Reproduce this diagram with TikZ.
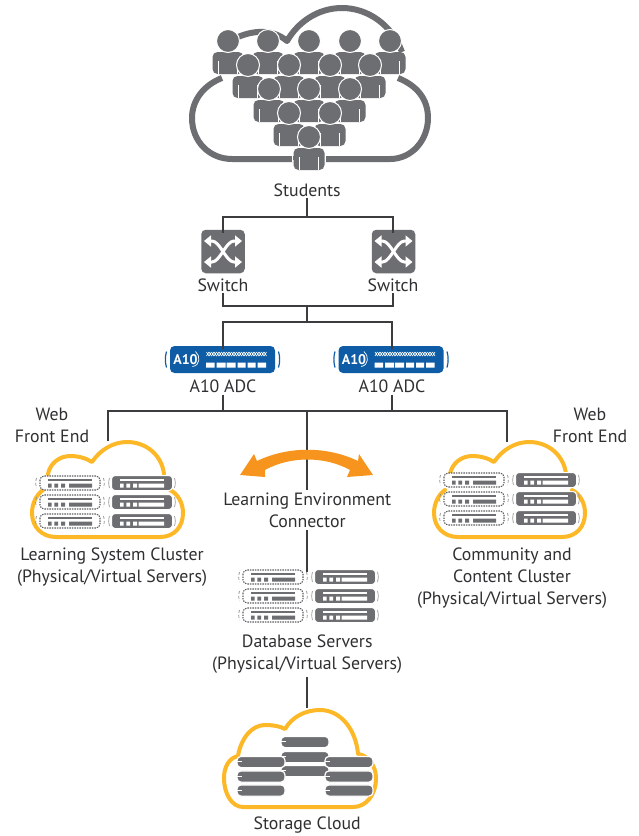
\documentclass[tikz,border=0pt]{standalone}
\usepackage{fontspec}
\setmainfont{PT Sans}
\usetikzlibrary{arrows.meta}
\definecolor{grayicon}{HTML}{6D6E71}
\definecolor{inktext}{HTML}{303032}
\definecolor{linedark}{HTML}{3C3C3E}
\definecolor{cloudyellow}{HTML}{FDB827}
\definecolor{arroworange}{HTML}{F7941D}
\definecolor{adcblue}{HTML}{0F5CA6}
\tikzset{
  lbl/.style={font=\fontsize{17.8}{22}\selectfont,text=inktext,align=center,inner sep=0pt},
  conn/.style={draw=linedark,line width=1.5pt},
  cloudline/.style={draw=cloudyellow,line width=4pt,line cap=round,line join=round},
  swbox/.style={fill=grayicon,rounded corners=4.5pt,minimum width=43.5pt,minimum height=43.5pt,inner sep=0pt},
  adcbox/.style={fill=adcblue,rounded corners=4.5pt,minimum width=105pt,minimum height=27pt,inner sep=0pt},
  person/.pic={
    \fill[grayicon,rounded corners=5pt] (-15.5,33) -- (-15.5,11) -- (15.5,11) -- (15.5,33) -- cycle;
    \draw[white,line width=1pt] (-9.5,33) -- (-9.5,20) (9.5,33) -- (9.5,20);
    \draw[white,line width=1pt,fill=grayicon] (0,0) circle (11.5);
  },
  swarrows/.pic={
    \draw[white,line width=3pt,{Triangle[width=11pt,length=7pt]}-{Triangle[width=11pt,length=7pt]}] (-19,-10.5) -- (-11,-10.5) .. controls (-3,-10.5) and (3,10.5) .. (11,10.5) -- (19,10.5);
    \draw[white,line width=3pt,{Triangle[width=11pt,length=7pt]}-{Triangle[width=11pt,length=7pt]}] (-19,10.5) -- (-11,10.5) .. controls (-3,10.5) and (3,-10.5) .. (11,-10.5) -- (19,-10.5);
  },
  adcface/.pic={
    \draw[adcblue,line width=1.2pt] (-56,-8) .. controls (-57.5,-3) and (-57.5,3) .. (-56,8);
    \draw[adcblue,line width=1.2pt] (56,-8) .. controls (57.5,-3) and (57.5,3) .. (56,8);
    \node[text=white,font=\bfseries\fontsize{14}{14}\selectfont,inner sep=0pt] at (-37,0.5) {A10};
    \draw[white,line width=.7pt] (-30,7) .. controls (-22,6) and (-22,-4) .. (-27,-8);
    \foreach \k in {0,...,23}{
      \draw[white,line width=.6pt] ({-16+2.5*\k},-7.5) -- ({-13.5+2.5*\k},-3.5) ({-16+2.5*\k},-3.5) -- ({-13.5+2.5*\k},-7.5);
    }
    \fill[white] (-16.5,3) rectangle (-8,8) (-6,3) rectangle (3,8) (4,3) rectangle (13,8)
      (15,3) rectangle (23,8) (25,3) rectangle (33,8) (35,3) rectangle (43.5,8);
  },
  physserver/.pic={
    \draw[grayicon!70,line width=.7pt] (-32.5,-5) .. controls (-33.5,-2) and (-33.5,2) .. (-32.5,5) (32.5,-5) .. controls (33.5,-2) and (33.5,2) .. (32.5,5);
    \draw[white,line width=1pt,fill=grayicon,rounded corners=3.5pt] (-30.5,-7.5) rectangle (30.5,7.5);
    \fill[white] (-22,-3.6) rectangle (22,-2.4);
    \fill[white] (-22,0.5) rectangle (-18.3,4.5) (-15.7,0.5) rectangle (-12,4.5) (-9,0.5) rectangle (-5,4.5) (-3.3,0.5) rectangle (22,4.5);
  },
  virtserver/.pic={
    \draw[grayicon!80,line width=.7pt,densely dashed] (-33.5,-5) .. controls (-34.5,-2) and (-34.5,2) .. (-33.5,5) (33.5,-5) .. controls (34.5,-2) and (34.5,2) .. (33.5,5);
    \draw[grayicon!85!black,line width=1.1pt,fill=white,dash pattern=on 1.4pt off 1.1pt,rounded corners=4pt] (-30,-7) rectangle (30,7);
    \fill[grayicon] (-22,-3.6) rectangle (22,-2.4);
    \fill[grayicon] (-22,0.5) rectangle (-18.3,4.5) (-15.7,0.5) rectangle (-12,4.5) (-9,0.5) rectangle (-5,4.5) (-1,0.5) rectangle (22,4.5);
  },
  disk/.pic={
    \draw[white,line width=1.2pt,fill=grayicon,rounded corners=4pt] (-24,-5.6) rectangle (24,5.6);
    \draw[white,line width=1pt] (-24,-.5) -- (-19,-.5);
  },
  yellowcloud/.pic={
    \draw[cloudline] (48,474) .. controls (50,463) and (60,456) .. (70,456) .. controls (78,456) and (86,458) .. (92,462)
       .. controls (100,450) and (113,442) .. (127,442) .. controls (147,442) and (162,456) .. (164,474);
    \draw[cloudline] (43,490) .. controls (36,495) and (32,504) .. (32,513) .. controls (32,527) and (42,537) .. (56,537)
       -- (160,537) .. controls (174,537) and (183,527) .. (183,513) .. controls (183,503) and (178,494) .. (170,490);
  },
  serverset/.pic={
    \pic at (-36,0) {virtserver}; \pic at (36,0) {physserver};
    \pic at (-36,19) {virtserver}; \pic at (36,19) {physserver};
    \pic at (-36,38) {virtserver}; \pic at (36,38) {physserver};
  }
}
\begin{document}
\begin{tikzpicture}[x=1pt,y=-1pt]
\path[use as bounding box,fill=white] (0,0) rectangle (639,836);

% named points
\coordinate (jStudents) at (307.2,217);
\coordinate (jStudentsL) at (223,217);
\coordinate (jStudentsR) at (393,217);
\coordinate (jSwitch) at (307.2,306);
\coordinate (jSwitchL) at (223,306);
\coordinate (jSwitchR) at (393,306);
\coordinate (jAdc) at (307.2,322);
\coordinate (jAdcL) at (223,322);
\coordinate (jAdcR) at (392,322);
\coordinate (jWeb) at (307.2,411);
\coordinate (jWebL) at (108,411);
\coordinate (jWebR) at (507,411);
\coordinate (jWebAdcL) at (223,411);
\coordinate (jWebAdcR) at (392,411);
\coordinate (cloudLtop) at (108,441);
\coordinate (cloudRtop) at (507,442);
\coordinate (dbTop) at (307.2,572);
\coordinate (storageTop) at (307.2,708);

% labels
\node[lbl] (students) at (307.2,190) {Students};
\node[lbl] (swLabelL) at (223,285) {Switch};
\node[lbl] (swLabelR) at (393,285) {Switch};
\node[lbl] (adcLabelL) at (223,386) {A10 ADC};
\node[lbl] (adcLabelR) at (392,386) {A10 ADC};
\node[lbl] (webL) at (52,425.5) {Web\\Front End};
\node[lbl] (webR) at (590,425.5) {Web\\Front End};
\node[lbl] (lec) at (307.2,510.5) {Learning Environment\\Connector};
\node[lbl] (lsc) at (112,567.5) {Learning System Cluster\\(Physical/Virtual Servers)};
\node[lbl] (ccc) at (512,578.5) {Community and\\Content Cluster\\(Physical/Virtual Servers)};
\node[lbl] (dbs) at (307.2,654.5) {Database Servers\\(Physical/Virtual Servers)};
\node[lbl] (storage) at (307.2,825.5) {Storage Cloud};

% boxes
\node[swbox] (swL) at (223,251.5) {};
\node[swbox] (swR) at (393.5,251.5) {};
\node[adcbox] (adcL) at (222.5,359.5) {};
\node[adcbox] (adcR) at (391,359.5) {};

% connectors
\draw[conn,shorten <=1pt] (students.south) -- (jStudents);
\draw[conn] ([yshift=-3pt]swL.north -| jStudentsL) -- (jStudentsL) -- (jStudentsR) -- ([yshift=-3pt]swR.north -| jStudentsR);
\draw[conn] ([yshift=-1pt]swLabelL.south) -- (jSwitchL) -- (jSwitchR) -- ([yshift=-1pt]swLabelR.south);
\draw[conn] (jSwitch) -- (jAdc);
\draw[conn] ([yshift=-3pt]adcL.north -| jAdcL) -- (jAdcL) -- (jAdcR) -- ([yshift=-3pt]adcR.north -| jAdcR);
\draw[conn,shorten <=2pt] (adcLabelL.south) -- (jWebAdcL);
\draw[conn,shorten <=2pt] (adcLabelR.south) -- (jWebAdcR);
\draw[conn] (cloudLtop) -- (jWebL) -- (jWebR) -- (cloudRtop);
\draw[conn,shorten >=3pt] (jWeb) -- (lec.north);
\draw[conn,shorten <=2pt] (lec.south) -- (dbTop);
\draw[conn,shorten <=3pt] (dbs.south) -- (storageTop);

% student cloud
\draw[draw=grayicon,line width=6pt,line join=round]
  (222,78) .. controls (204,85) and (192,100) .. (192,118) .. controls (192,142) and (210,159) .. (232,159) -- (295,159)
  (325,159) -- (390,159) .. controls (412,159) and (428,140) .. (428,118) .. controls (428,100) and (418,86) .. (398,78)
  (238,37) .. controls (252,31) and (272,28) .. (287,41) .. controls (298,22) and (318,8) .. (342,8) .. controls (368,8) and (392,25) .. (402,52);
% people, back to front
\foreach \x in {228,268,309,350,390} \pic at (\x,41) {person};
\foreach \x in {248,289,330,370} \pic at (\x,65) {person};
\foreach \x in {269,309,350} \pic at (\x,89) {person};
\foreach \x in {289,330} \pic at (\x,113) {person};
\draw[white,line width=1.2pt] (292.5,148) rectangle (325.5,161);
\pic at (309,137) {person};

% switch and ADC faces
\pic at (swL) {swarrows};
\pic at (swR) {swarrows};
\pic at (adcL) {adcface};
\pic at (adcR) {adcface};

% clusters
\pic at (0,0) {yellowcloud};
\pic at (106,483) {serverset};
\pic at (402,0) {yellowcloud};
\pic at (510,480) {serverset};
\pic at (309,577) {serverset};

% orange arrow
\fill[arroworange] (240,475) -- (254,454) -- (257,461) .. controls (288,446) and (327,446) .. (358,461)
  -- (359,454) -- (373,475) -- (347,477) -- (350,470) .. controls (325,456) and (290,456) .. (265,470) -- (265,477) -- cycle;

% storage cloud
\draw[cloudline] (238,756) .. controls (241,738) and (252,725) .. (265,725) .. controls (272,725) and (280,726) .. (285,729)
  .. controls (292,717) and (305,710) .. (320,710) .. controls (341,710) and (356,730) .. (358,754)
  .. controls (368,755) and (376,766) .. (376,778) .. controls (376,795) and (366,807) .. (353,807) -- (243,807)
  .. controls (232,807) and (224,794) .. (224,778) .. controls (224,767) and (229,758) .. (238,756);
\pic at (305,742) {disk};
\pic at (305,757) {disk};
\pic at (305,771) {disk};
\foreach \y in {762,776.5,790.5}{
  \pic at (261,\y) {disk};
  \pic at (349,\y) {disk};
}
\end{tikzpicture}
\end{document}
